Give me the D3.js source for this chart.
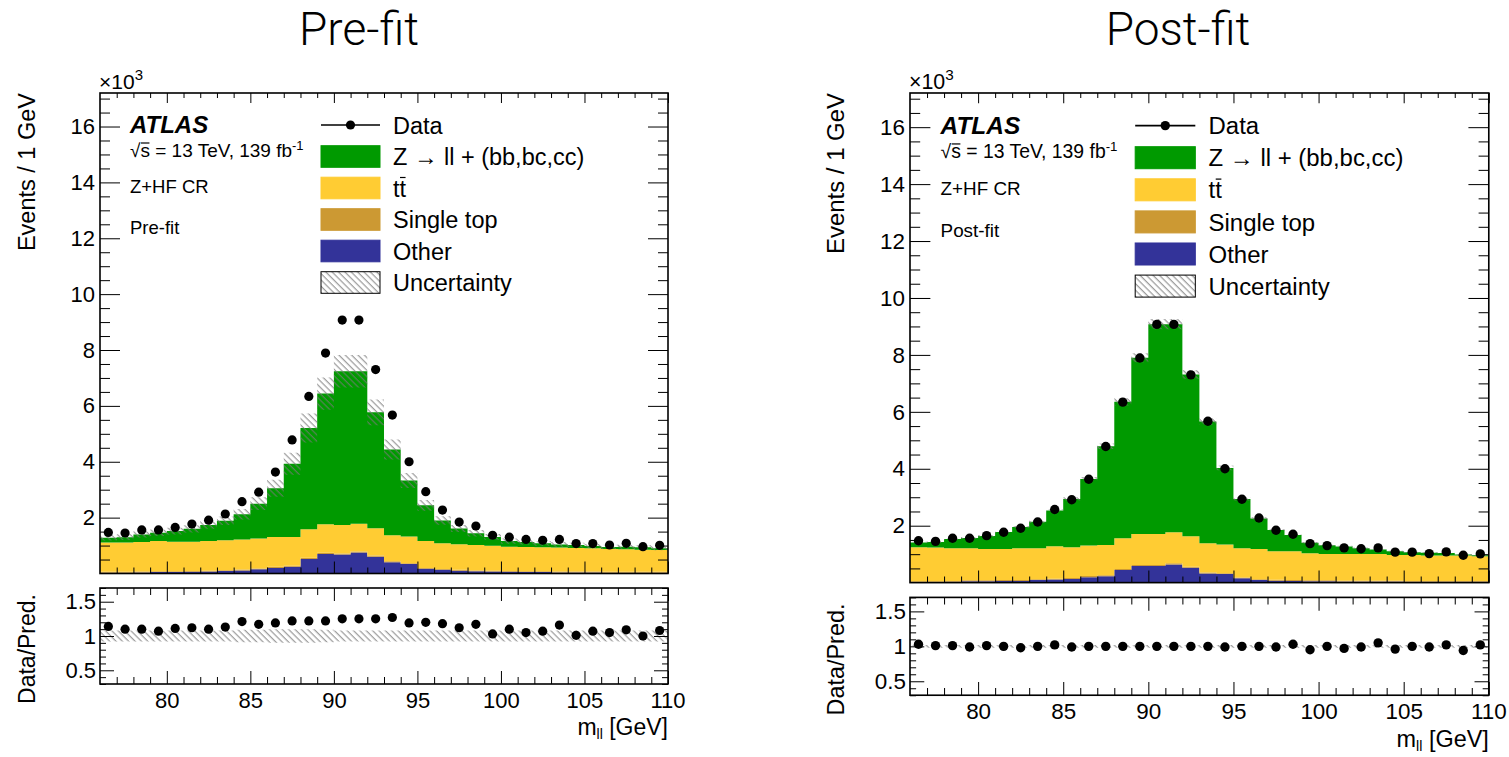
<!DOCTYPE html>
<html>
<head>
<meta charset="utf-8">
<script src="https://cdn.jsdelivr.net/npm/d3@7"></script>
<style>
  body { margin: 0; background: #fff; }
  svg text { font-family: "Liberation Sans", Arial, Helvetica, sans-serif; fill: #000; }
  .tick line { stroke: #000; stroke-width: 1; }
</style>
</head>
<body>
<svg id="chart" width="1509" height="757"></svg>
<script>
;(function () {
    "use strict";

    // 1 GeV bins from 76 to 110, counts in units of 10^3 events
    var binLow = d3.range(76, 110);
    var dataCounts = [1.47,1.45,1.56,1.56,1.65,1.77,1.91,2.13,2.57,2.91,3.63,4.78,6.34,7.89,9.07,9.07,7.30,5.67,4.00,2.93,2.27,1.84,1.70,1.37,1.30,1.22,1.19,1.22,1.07,1.07,1.02,1.08,0.96,1.01];

    var preZhf       = [0.17,0.19,0.27,0.30,0.38,0.46,0.58,0.70,0.90,1.25,1.74,2.62,3.63,4.68,5.50,5.46,4.15,3.07,2.01,1.28,0.82,0.56,0.42,0.32,0.20,0.18,0.14,0.11,0.11,0.08,0.07,0.09,0.09,0.06];
    var preTtbar     = [1.05,1.05,1.06,1.08,1.06,1.05,1.06,1.07,1.08,1.07,1.07,1.03,1.02,1.02,1.02,0.99,0.98,0.93,0.95,0.96,0.92,0.92,0.91,0.89,0.87,0.87,0.86,0.86,0.84,0.83,0.82,0.81,0.79,0.78];
    var preSingleTop = [0.03,0.03,0.03,0.03,0.03,0.03,0.03,0.03,0.03,0.03,0.04,0.04,0.04,0.04,0.04,0.04,0.04,0.04,0.03,0.03,0.03,0.03,0.03,0.03,0.03,0.03,0.03,0.03,0.03,0.03,0.03,0.03,0.03,0.03];
    var preOther     = [0.03,0.03,0.04,0.05,0.05,0.06,0.07,0.09,0.11,0.15,0.20,0.24,0.52,0.70,0.68,0.75,0.60,0.40,0.34,0.17,0.13,0.10,0.08,0.07,0.06,0.05,0.05,0.04,0.04,0.04,0.03,0.03,0.03,0.03];
    var preUnc       = [0.08,0.08,0.08,0.08,0.08,0.08,0.08,0.08,0.09,0.09,0.10,0.10,0.10,0.09,0.08,0.08,0.08,0.08,0.08,0.08,0.08,0.08,0.08,0.08,0.08,0.08,0.08,0.08,0.08,0.08,0.08,0.08,0.08,0.08];
    var preRatio     = [1.14,1.10,1.10,1.07,1.11,1.12,1.10,1.13,1.21,1.17,1.19,1.22,1.22,1.22,1.25,1.25,1.25,1.27,1.19,1.20,1.18,1.12,1.17,1.03,1.10,1.05,1.07,1.16,1.01,1.07,1.05,1.09,1.00,1.08];

    var postZhf       = [0.17,0.20,0.32,0.36,0.46,0.60,0.74,0.93,1.25,1.70,2.34,3.47,4.79,6.19,7.37,7.31,5.68,4.28,2.69,1.73,1.07,0.75,0.57,0.37,0.30,0.26,0.20,0.15,0.13,0.10,0.10,0.09,0.04,0.03];
    var postTtbar     = [1.19,1.18,1.15,1.13,1.10,1.09,1.12,1.09,1.14,1.08,1.07,1.06,1.08,1.09,1.09,1.09,1.07,1.02,1.01,1.03,1.06,1.00,1.01,0.95,0.93,0.94,0.94,0.94,0.90,0.91,0.89,0.89,0.89,0.87];
    var postSingleTop = [0.03,0.03,0.03,0.03,0.03,0.03,0.03,0.03,0.03,0.03,0.04,0.04,0.04,0.04,0.04,0.04,0.04,0.04,0.03,0.03,0.03,0.03,0.03,0.03,0.03,0.03,0.03,0.03,0.03,0.03,0.03,0.03,0.03,0.03];
    var postOther     = [0.02,0.02,0.03,0.05,0.05,0.06,0.06,0.09,0.11,0.13,0.19,0.22,0.44,0.58,0.58,0.64,0.52,0.32,0.30,0.15,0.09,0.07,0.06,0.05,0.05,0.04,0.04,0.04,0.04,0.03,0.03,0.03,0.03,0.03];
    var postUnc       = [0.02,0.02,0.02,0.02,0.02,0.02,0.02,0.02,0.02,0.02,0.02,0.02,0.02,0.02,0.02,0.02,0.02,0.02,0.02,0.02,0.02,0.02,0.02,0.02,0.02,0.02,0.02,0.02,0.02,0.02,0.02,0.02,0.02,0.02];
    var postRatio     = [1.03,1.01,1.01,0.99,1.01,1.00,0.98,1.00,1.02,0.99,1.00,1.00,1.00,1.00,1.00,1.00,1.00,1.00,0.99,1.00,1.00,0.99,1.03,0.95,1.00,0.97,0.99,1.05,0.96,1.00,0.99,1.02,0.94,1.02];

    var mainTickLabels  = [2, 4, 6, 8, 10, 12, 14, 16];
    var ratioTickLabels = [0.5, 1, 1.5];
    var xTickLabels     = [80, 85, 90, 95, 100, 105, 110];
    var legendLabels    = ["Data", "Z \u2192 ll + (bb,bc,cc)", "tt", "Single top", "Other", "Uncertainty"];
    var stackKeys       = ["other", "single", "ttbar", "zhf"];
    var colors = { zhf: "#009a00", ttbar: "#ffcc33", single: "#cc9933", other: "#333399" };

    var svg = d3.select("#chart");

    svg.append("defs").append("pattern")
        .attr("id", "hatch")
        .attr("patternUnits", "userSpaceOnUse")
        .attr("width", 4.5)
        .attr("height", 4.5)
        .attr("patternTransform", "rotate(-45)")
        .append("line")
        .attr("x1", 2).attr("y1", 0)
        .attr("x2", 2).attr("y2", 4.5)
        .attr("stroke", "#777")
        .attr("stroke-width", 0.9);

    // overline over one character of a text element
    function overline(g, textNode, idx, yOff) {
        var s = textNode.getStartPositionOfChar(idx), e = textNode.getEndPositionOfChar(idx);
        g.append("line")
            .attr("x1", s.x + 0.5).attr("x2", e.x - 0.5)
            .attr("y1", s.y + yOff).attr("y2", s.y + yOff)
            .attr("stroke", "#000").attr("stroke-width", 1.2);
    }

    function drawPanel(g, cfg) {
        var x = d3.scaleLinear().domain([76, 110]).range([100, 668]);
        var y = d3.scaleLinear().domain([0, 17.2]).range([573.5, 93]);
        var yr = d3.scaleLinear().domain([0.3, 1.7]).range([684, 588]);

        var rows = binLow.map(function (lo, i) {
            return { lo: lo, hi: lo + 1, zhf: cfg.zhf[i], ttbar: cfg.ttbar[i],
                     single: cfg.single[i], other: cfg.other[i], unc: cfg.unc[i],
                     data: dataCounts[i], ratio: cfg.ratio[i] };
        });
        rows.forEach(function (r) { r.total = r.zhf + r.ttbar + r.single + r.other; });

        var layers = d3.stack().keys(stackKeys)(rows);

        function steps(acc0, acc1) {
            var pts = [];
            rows.forEach(function (r, i) {
                pts.push([r.lo, acc0(r, i), acc1(r, i)]);
                pts.push([r.hi, acc0(r, i), acc1(r, i)]);
            });
            return pts;
        }

        var area = d3.area()
            .x(function (p) { return x(p[0]); })
            .y0(function (p) { return y(p[1]); })
            .y1(function (p) { return y(p[2]); });
        var rArea = d3.area()
            .x(function (p) { return x(p[0]); })
            .y0(function (p) { return yr(p[1]); })
            .y1(function (p) { return yr(p[2]); });

        layers.forEach(function (layer) {
            g.append("path")
                .attr("d", area(steps(function (r, i) { return layer[i][0]; }, function (r, i) { return layer[i][1]; })))
                .attr("fill", colors[layer.key]);
        });

        // uncertainty band
        g.append("path")
            .attr("d", area(steps(function (r) { return r.total * (1 - r.unc); }, function (r) { return r.total * (1 + r.unc); })))
            .attr("fill", "url(#hatch)");
        g.append("path")
            .attr("d", rArea(steps(function (r) { return 1 - r.unc; }, function (r) { return 1 + r.unc; })))
            .attr("fill", "url(#hatch)");

        // data points
        g.selectAll(".dpt").data(rows).enter().append("circle")
            .attr("class", "dpt")
            .attr("cx", function (r) { return x(r.lo + 0.5); })
            .attr("cy", function (r) { return y(r.data); })
            .attr("r", 4.6);
        g.selectAll(".rpt").data(rows).enter().append("circle")
            .attr("class", "rpt")
            .attr("cx", function (r) { return x(r.lo + 0.5); })
            .attr("cy", function (r) { return yr(r.ratio); })
            .attr("r", 4.6);

        // axes (ROOT style, ticks pointing inside)
        var xMinor = d3.range(77, 110).filter(function (v) { return v % 5 !== 0; });
        var yMinor = d3.range(1, 35).map(function (v) { return v / 2; }).filter(function (v) { return v % 2 !== 0; });
        var rMinor = d3.range(3, 18).map(function (v) { return v / 10; }).filter(function (v) { return Math.abs(v * 2 - Math.round(v * 2)) > 1e-6; });

        function ax(axis, tr, vals, size, fmt, pad) {
            var a = g.append("g").attr("transform", tr)
                .call(axis.tickValues(vals).tickSize(-size).tickPadding(pad || 4).tickFormat(fmt || ""));
            a.select(".domain").remove();
            return a;
        }

        // main panel
        ax(d3.axisBottom(x), "translate(0,573.5)", xTickLabels, 12);
        ax(d3.axisBottom(x), "translate(0,573.5)", xMinor, 6);
        ax(d3.axisTop(x), "translate(0,93)", xTickLabels, 10);
        ax(d3.axisTop(x), "translate(0,93)", xMinor, 5);
        var yl = ax(d3.axisLeft(y), "translate(100,0)", mainTickLabels, 20, function (d) { return d; }, 5);
        yl.selectAll("text").attr("font-size", 22);
        ax(d3.axisLeft(y), "translate(100,0)", yMinor, 10);
        ax(d3.axisRight(y), "translate(668,0)", mainTickLabels, 20);
        ax(d3.axisRight(y), "translate(668,0)", yMinor, 10);

        // ratio panel
        var xb = ax(d3.axisBottom(x), "translate(0,684)", xTickLabels, 13, function (d) { return d; }, 8);
        xb.selectAll("text").attr("font-size", 22)
            .filter(function (d) { return d === 110; }).attr("text-anchor", "end").attr("dx", 17);
        ax(d3.axisBottom(x), "translate(0,684)", xMinor, 7);
        ax(d3.axisTop(x), "translate(0,588)", xTickLabels, 13);
        ax(d3.axisTop(x), "translate(0,588)", xMinor, 7);
        var ryl = ax(d3.axisLeft(yr), "translate(100,0)", ratioTickLabels, 14, function (d) { return d; }, 4);
        ryl.selectAll("text").attr("font-size", 22);
        ax(d3.axisLeft(yr), "translate(100,0)", rMinor, 6);
        ax(d3.axisRight(yr), "translate(668,0)", ratioTickLabels, 14);
        ax(d3.axisRight(yr), "translate(668,0)", rMinor, 6);

        // frames
        g.append("rect").attr("x", 100).attr("y", 93).attr("width", 568).attr("height", 480.5)
            .attr("fill", "none").attr("stroke", "#000").attr("stroke-width", 1.6);
        g.append("rect").attr("x", 100).attr("y", 588).attr("width", 568).attr("height", 96)
            .attr("fill", "none").attr("stroke", "#000").attr("stroke-width", 1.6);

        // axis titles
        g.append("text").attr("transform", "translate(35,93) rotate(-90)")
            .attr("text-anchor", "end").attr("font-size", 23.5).text("Events / 1 GeV");
        g.append("text").attr("transform", "translate(35,594) rotate(-90)")
            .attr("text-anchor", "end").attr("font-size", 23).text("Data/Pred.");
        var mt = g.append("text").attr("x", 668).attr("y", 735).attr("text-anchor", "end").attr("font-size", 23);
        mt.append("tspan").text("m");
        mt.append("tspan").attr("font-size", 14).attr("dy", 4).text("ll");
        mt.append("tspan").attr("dy", -4).text(" [GeV]");

        var ex = g.append("text").attr("x", 99).attr("y", 89).attr("font-size", 21);
        ex.append("tspan").text("\u00d710");
        ex.append("tspan").attr("font-size", 15).attr("dy", -9).text("3");

        // labels
        g.append("text").attr("x", 130).attr("y", 133).attr("font-size", 24)
            .attr("font-weight", "bold").attr("font-style", "italic").text("ATLAS");
        var rs = g.append("text").attr("x", 130).attr("y", 157).attr("font-size", 19);
        rs.append("tspan").text("\u221as = 13 TeV, 139 fb");
        rs.append("tspan").attr("font-size", 13).attr("dy", -7).text("-1");
        overline(g, rs.node(), 1, -14);
        g.append("text").attr("x", 130).attr("y", 193).attr("font-size", 18.5).text("Z+HF CR");
        g.append("text").attr("x", 130).attr("y", 234).attr("font-size", 18.5).text(cfg.name);

        // legend
        var lg = g.append("g");
        var rowY = function (i) { return 125 + i * 31.5; };
        lg.append("line").attr("x1", 321).attr("x2", 380).attr("y1", rowY(0)).attr("y2", rowY(0))
            .attr("stroke", "#000").attr("stroke-width", 1.6);
        lg.append("circle").attr("cx", 350.5).attr("cy", rowY(0)).attr("r", 4.6);
        var boxFill = [colors.zhf, colors.ttbar, colors.single, colors.other, "url(#hatch)"];
        boxFill.forEach(function (f, k) {
            lg.append("rect").attr("x", 321).attr("y", rowY(k + 1) - 10.8)
                .attr("width", 59).attr("height", 21.6).attr("fill", f)
                .attr("stroke", k === 4 ? "#000" : f).attr("stroke-width", 1);
        });
        legendLabels.forEach(function (lab, k) {
            var t = lg.append("text").attr("x", 393).attr("y", rowY(k) + 8.5).attr("font-size", 23.5).text(lab);
            if (lab === "tt") { overline(lg, t.node(), 1, -19); }
        });
    }

    drawPanel(svg.append("g"), {
        name: "Pre-fit", zhf: preZhf, ttbar: preTtbar, single: preSingleTop,
        other: preOther, unc: preUnc, ratio: preRatio
    });
    drawPanel(svg.append("g").attr("transform", "translate(808.1,-1.77) scale(1.019)"), {
        name: "Post-fit", zhf: postZhf, ttbar: postTtbar, single: postSingleTop,
        other: postOther, unc: postUnc, ratio: postRatio
    });

    // panel titles
    svg.append("text").attr("x", 359).attr("y", 45).attr("text-anchor", "middle")
        .attr("font-size", 46).style("font-family", "Roboto").attr("font-weight", 300).text("Pre-fit");
    svg.append("text").attr("x", 1178).attr("y", 45).attr("text-anchor", "middle")
        .attr("font-size", 46).style("font-family", "Roboto").attr("font-weight", 300).text("Post-fit");
}());
</script>
</body>
</html>
